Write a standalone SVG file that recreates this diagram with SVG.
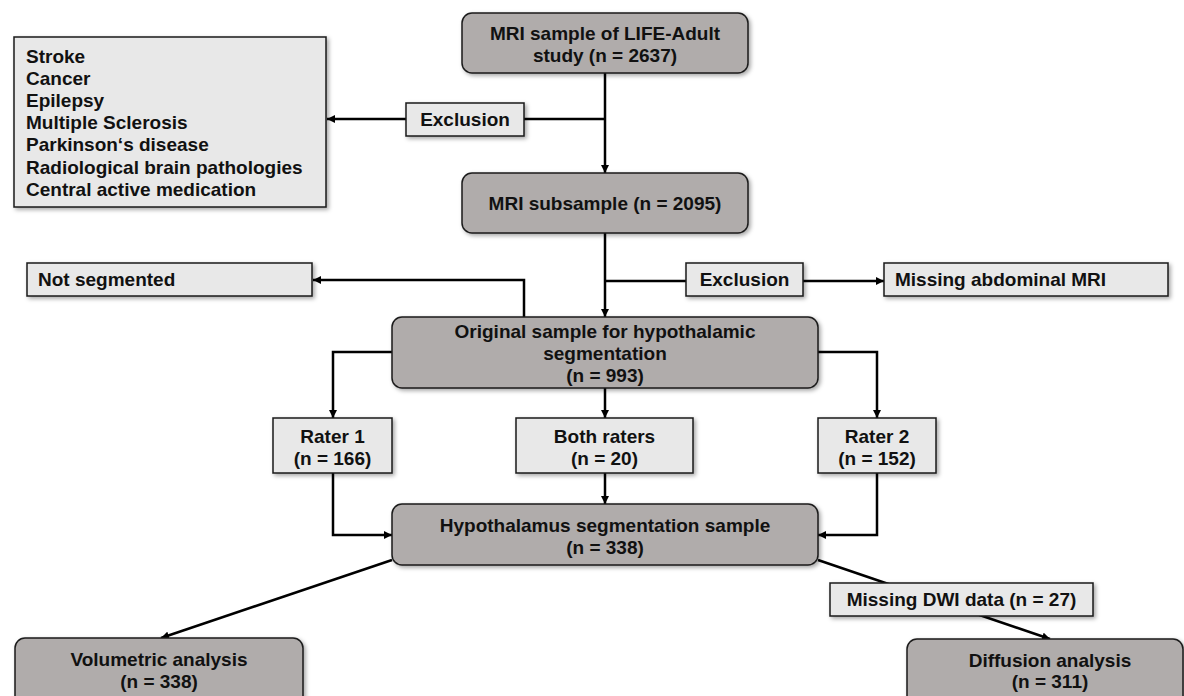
<svg xmlns="http://www.w3.org/2000/svg" width="1184" height="696" viewBox="0 0 1184 696">
<defs>
<filter id="sh" x="-10%" y="-20%" width="120%" height="150%">
<feDropShadow dx="2" dy="2" stdDeviation="2" flood-color="#000" flood-opacity="0.35"/>
</filter>
<marker id="ah" viewBox="0 0 10 10" refX="10" refY="5" markerWidth="8" markerHeight="8" markerUnits="userSpaceOnUse" orient="auto">
<path d="M0,0 L10,5 L0,10 z" fill="#000"/>
</marker>
<style>
.dark{fill:#b0acab;stroke:#1a1a1a;stroke-width:1.5;filter:url(#sh)}
.light{fill:#e8e8e8;stroke:#1a1a1a;stroke-width:1.5;filter:url(#sh)}
.t{font-family:"Liberation Sans",Arial,sans-serif;font-weight:bold;font-size:19px;fill:#111}
.c{text-anchor:middle}
.ln{fill:none;stroke:#000;stroke-width:2.5}
.ar{marker-end:url(#ah)}
</style>
</defs>
<rect width="1184" height="696" fill="#fff"/>
<g id="connectors">
<path class="ln ar" d="M605,73 V173"/>
<path class="ln" d="M605,119 H524"/>
<path class="ln ar" d="M406,119 H327"/>
<path class="ln ar" d="M605,233 V317"/>
<path class="ln" d="M605,281 H686"/>
<path class="ln ar" d="M803,281 H884"/>
<path class="ln ar" d="M524,317 V280 H313"/>
<path class="ln ar" d="M392,352 H333 V418"/>
<path class="ln ar" d="M818,352 H877 V418"/>
<path class="ln ar" d="M605,388 V418"/>
<path class="ln ar" d="M333,473 V535 H392"/>
<path class="ln ar" d="M605,473 V504"/>
<path class="ln ar" d="M877,473 V535 H818"/>
<path class="ln ar" d="M392,560 L161,638"/>
<path class="ln ar" d="M818,560 L1050,639"/>
</g>
<g id="n_top">
<rect class="dark" x="462" y="13" width="286" height="60" rx="10"/>
<text class="t c" x="605" y="40">MRI sample of LIFE-Adult</text>
<text class="t c" x="605" y="62">study (n = 2637)</text>
</g>
<g id="n_list">
<rect class="light" x="14" y="37" width="312" height="170"/>
<text class="t" x="26" y="62.5">Stroke</text>
<text class="t" x="26" y="84.7">Cancer</text>
<text class="t" x="26" y="106.9">Epilepsy</text>
<text class="t" x="26" y="129.1">Multiple Sclerosis</text>
<text class="t" x="26" y="151.3">Parkinson‘s disease</text>
<text class="t" x="26" y="173.5">Radiological brain pathologies</text>
<text class="t" x="26" y="195.7">Central active medication</text>
</g>
<g id="n_excl1">
<rect class="light" x="406" y="103" width="118" height="33"/>
<text class="t c" x="465" y="126">Exclusion</text>
</g>
<g id="n_sub">
<rect class="dark" x="462" y="173" width="286" height="60" rx="10"/>
<text class="t c" x="605" y="210">MRI subsample (n = 2095)</text>
</g>
<g id="n_notseg">
<rect class="light" x="27" y="263" width="285" height="33"/>
<text class="t" x="38" y="286">Not segmented</text>
</g>
<g id="n_excl2">
<rect class="light" x="686" y="263" width="117" height="33"/>
<text class="t c" x="744.5" y="286">Exclusion</text>
</g>
<g id="n_abd">
<rect class="light" x="884" y="263" width="284" height="33"/>
<text class="t" x="895" y="286">Missing abdominal MRI</text>
</g>
<g id="n_orig">
<rect class="dark" x="392" y="317" width="426" height="71" rx="10"/>
<text class="t c" x="605" y="338">Original sample for hypothalamic</text>
<text class="t c" x="605" y="360">segmentation</text>
<text class="t c" x="605" y="382">(n = 993)</text>
</g>
<g id="n_r1">
<rect class="light" x="273" y="418" width="119" height="55"/>
<text class="t c" x="332.5" y="443">Rater 1</text>
<text class="t c" x="332.5" y="465">(n = 166)</text>
</g>
<g id="n_both">
<rect class="light" x="516" y="418" width="177" height="55"/>
<text class="t c" x="604.5" y="443">Both raters</text>
<text class="t c" x="604.5" y="465">(n = 20)</text>
</g>
<g id="n_r2">
<rect class="light" x="818" y="418" width="118" height="55"/>
<text class="t c" x="877" y="443">Rater 2</text>
<text class="t c" x="877" y="465">(n = 152)</text>
</g>
<g id="n_hyp">
<rect class="dark" x="392" y="504" width="426" height="61" rx="10"/>
<text class="t c" x="605" y="532">Hypothalamus segmentation sample</text>
<text class="t c" x="605" y="554">(n = 338)</text>
</g>
<g id="n_dwi">
<rect class="light" x="830" y="583" width="263" height="33"/>
<text class="t c" x="961.5" y="606">Missing DWI data (n = 27)</text>
</g>
<g id="n_vol">
<rect class="dark" x="15" y="638" width="288" height="70" rx="10"/>
<text class="t c" x="159" y="665.5">Volumetric analysis</text>
<text class="t c" x="159" y="688">(n = 338)</text>
</g>
<g id="n_diff">
<rect class="dark" x="907" y="639" width="276" height="70" rx="10"/>
<text class="t c" x="1050" y="666.5">Diffusion analysis</text>
<text class="t c" x="1050" y="688">(n = 311)</text>
</g>
</svg>
